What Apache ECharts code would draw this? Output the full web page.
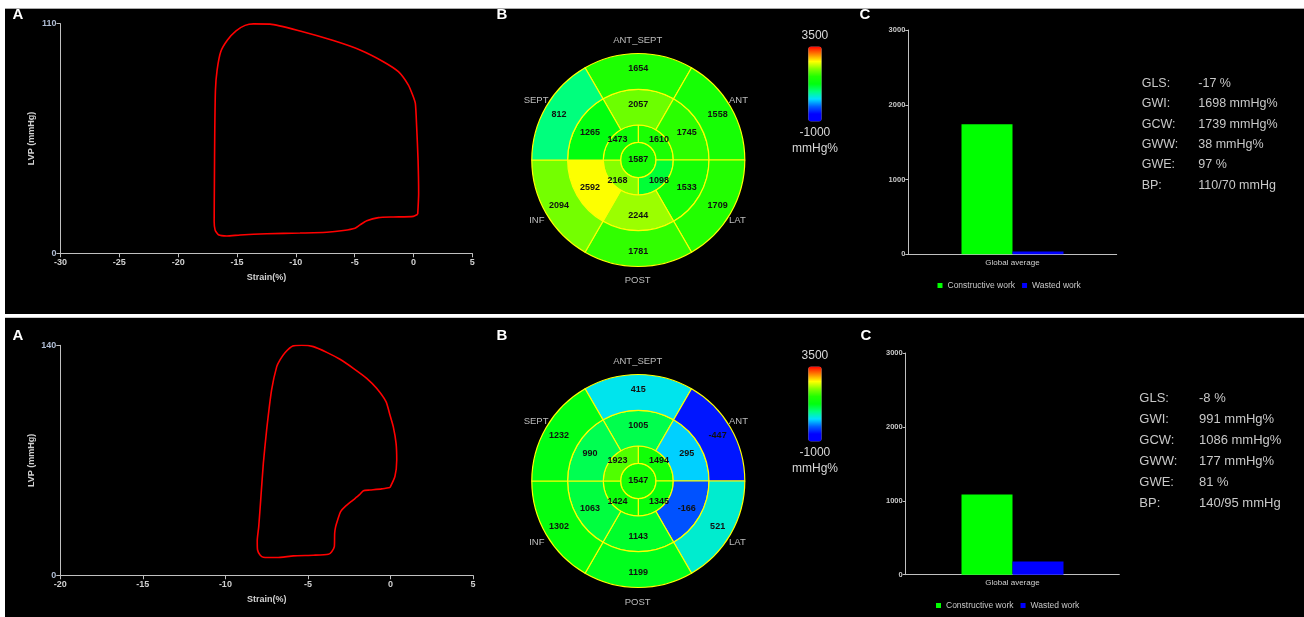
<!DOCTYPE html>
<html><head><meta charset="utf-8">
<script src="https://cdn.jsdelivr.net/npm/echarts@6/dist/echarts.min.js"></script>
<style>
html,body{margin:0;padding:0;background:#fff;width:1304px;height:617px;overflow:hidden}
.panel{position:absolute;background:#000}
#chart{position:absolute;left:0;top:0;width:1304px;height:617px}
</style></head><body>
<div class="panel" style="left:5px;top:8px;width:1299px;height:305px;border-top:1px solid #aaa"></div>
<div class="panel" style="left:5px;top:317px;width:1299px;height:300px;border-top:1px solid #ccc"></div>
<div id="chart"></div>
<script>
// ---------- DATA ----------
// Panel A: pressure-strain loops
const topLoopStrain = [0.36,0.44,0.39,0.27,0.16,-0.07,-0.43,-1.28,-2.56,-4.54,-6.81,-9.64,-12.19,-13.6,-14.31,-15.08,-15.81,-16.38,-16.69,-16.83,-16.89,-16.92,-16.94,-16.86,-16.58,-15.87,-14.74,-12.47,-9.64,-7.37,-5.96,-4.97,-4.54,-3.97,-2.98,-1.71,-0.01,0.36];
const topLoopLVP    = [18.7,28.7,44.7,60.7,71.8,75.8,80.6,87.0,91.8,97.4,101.9,106.5,109.8,109.9,109.2,106.6,102.2,96.6,87.8,78.2,57.5,33.5,15.2,11.2,8.9,8.3,8.8,9.4,9.7,10.1,10.9,12.0,13.6,15.6,17.1,17.4,17.7,18.7];
const bottomLoopStrain = [-0.03,0.27,0.38,0.34,0.17,-0.03,-0.27,-0.84,-1.44,-2.25,-3.06,-3.86,-4.67,-5.38,-5.92,-6.39,-6.69,-6.89,-7.2,-7.5,-7.7,-7.86,-7.98,-8.07,-8.05,-7.9,-7.7,-6.89,-5.88,-4.67,-3.76,-3.56,-3.4,-3.38,-3.32,-3.2,-3.02,-2.75,-2.25,-1.89,-1.64,-1.24,-0.53,-0.03];
const bottomLoopLVP    = [53.4,60.1,70.2,80.3,90.5,97.6,105.7,113.8,119.9,126.0,131.5,135.7,139.2,140.0,139.6,135.5,131.1,127.0,112.8,88.5,68.2,45.9,29.6,21.1,15.4,12.4,11.0,10.8,11.8,12.2,12.8,14.4,17.4,25.6,29.6,33.7,38.8,41.8,45.9,48.9,51.5,51.9,52.6,53.4];

// Panel B: bull's eye (segments clockwise from top)
const basalNames  = ['basal ANT_SEPT','basal ANT','basal LAT','basal POST','basal INF','basal SEPT'];
const midNames    = ['mid ANT_SEPT','mid ANT','mid LAT','mid POST','mid INF','mid SEPT'];
const apicalNames = ['apical ANT','apical LAT','apical INF','apical SEPT'];
const apexNames   = ['apex'];
const topBasal  = [1654, 1558, 1709, 1781, 2094, 812];
const topMid    = [2057, 1745, 1533, 2244, 2592, 1265];
const topApical = [1610, 1098, 2168, 1473];
const topApex   = [1587];
const botBasal  = [415, -447, 521, 1199, 1302, 1232];
const botMid    = [1005, 295, -166, 1143, 1063, 990];
const botApical = [1494, 1345, 1424, 1923];
const botApex   = [1547];
const wallLabels = ['ANT_SEPT','ANT','LAT','POST','INF','SEPT'];
const scaleMin = -1000, scaleMax = 3500;

// Panel C: global work
const workCategories = ['Global average'];
const topConstructive = [1739], topWasted = [38];
const botConstructive = [1086], botWasted = [177];
const statLabels = ['GLS:','GWI:','GCW:','GWW:','GWE:','BP:'];
const topStats = ['-17 %','1698 mmHg%','1739 mmHg%','38 mmHg%','97 %','110/70 mmHg'];
const botStats = ['-8 %','991 mmHg%','1086 mmHg%','177 mmHg%','81 %','140/95 mmHg'];

// ---------- CHART ----------
const FONT = 'Liberation Sans, Arial, sans-serif';
const chart = echarts.init(document.getElementById('chart'), null, {renderer:'canvas', width:1304, height:617});

function pairs(xs, ys){ return xs.map((x,i)=>[x, ys[i]]); }
function ringSource(names, vals){ return [['seg','size','work']].concat(names.map((n,i)=>[n,1,vals[i]])); }

const datasets = [
  {source: ringSource(apexNames, topApex)},
  {source: ringSource(apicalNames, topApical)},
  {source: ringSource(midNames, topMid)},
  {source: ringSource(basalNames, topBasal)},
  {source: ringSource(apexNames, botApex)},
  {source: ringSource(apicalNames, botApical)},
  {source: ringSource(midNames, botMid)},
  {source: ringSource(basalNames, botBasal)}
];

const radii = [[0,17.7],[17.7,35],[35,70.7],[70.7,106.5]];
const startAngles = [90, 90, 120, 120];
function pieSeries(dsIndex, ring, center){
  return {
    type:'pie', datasetIndex: dsIndex, center: center, radius: radii[ring],
    startAngle: startAngles[ring], clockwise: true, silent: true, animation:false,
    avoidLabelOverlap:false, emphasis:{disabled:true},
    encode:{itemName:'seg', value:'size'},
    itemStyle:{borderColor:'#ffff00', borderWidth:1.2},
    label:{show:true, position: ring===0 ? 'center' : 'inside', formatter:'{@work}',
      color:'#111', fontSize:9, fontWeight:'bold', fontFamily:FONT},
    labelLine:{show:false}
  };
}

const axisText = {color:'#d0d0d0', fontSize:9, fontWeight:'bold', fontFamily:FONT};
function loopAxes(gi, xmin, ymax){
  return {
    x:{type:'value', gridIndex:gi, min:xmin, max:5, interval:5,
      axisLine:{onZero:false, lineStyle:{color:'#c0c0c0'}}, axisTick:{length:4, lineStyle:{color:'#c0c0c0'}},
      splitLine:{show:false}, axisLabel:Object.assign({margin:5}, axisText),
      name:'Strain(%)', nameLocation:'middle', nameGap:20, nameTextStyle:axisText},
    y:{type:'value', gridIndex:gi, min:0, max:ymax, interval:ymax,
      axisLine:{show:true, onZero:false, lineStyle:{color:'#c0c0c0'}}, axisTick:{show:true, length:4, lineStyle:{color:'#c0c0c0'}},
      splitLine:{show:false}, axisLabel:Object.assign({margin:4}, axisText, {color:'#aebbd2'}),
      name:'LVP (mmHg)', nameLocation:'middle', nameGap:24, nameTextStyle:axisText}
  };
}
function barAxes(gi){
  return {
    x:{type:'category', gridIndex:gi, data:workCategories,
      axisLine:{onZero:false, lineStyle:{color:'#c0c0c0'}}, axisTick:{length:3, lineStyle:{color:'#c0c0c0'}},
      axisLabel:{color:'#d0d0d0', fontSize:8, fontFamily:FONT, margin:4}},
    y:{type:'value', gridIndex:gi, min:0, max:3000, interval:1000,
      axisLine:{show:true, onZero:false, lineStyle:{color:'#c0c0c0'}}, axisTick:{show:true, length:3, lineStyle:{color:'#c0c0c0'}},
      splitLine:{show:false}, axisLabel:{color:'#c8c8c8', fontSize:7.5, fontWeight:'bold', fontFamily:FONT, margin:3,
        formatter: v => String(v)}}
  };
}
const a0 = loopAxes(0, -30, 110), a1 = loopAxes(1, -20, 140), b0 = barAxes(2), b1 = barAxes(3);

function barSeries(name, gi, data, color){
  return {type:'bar', name:name, xAxisIndex:gi, yAxisIndex:gi, data:data, barWidth:51, barGap:'0%',
    itemStyle:{color:color}, silent:true, animation:false};
}

const colors = ['#0000ff','#0000ff','#0060ff','#00e0ff','#00ff80','#00ff10','#20ff00','#80ff00','#ffff00','#ff8000','#ff0000'];
function vmap(seriesIdx, top){
  return {type:'continuous', min:scaleMin, max:scaleMax, dimension:2, seriesIndex:seriesIdx,
    calculable:false, hoverLink:false, orient:'vertical', left:799.6, top:top, padding:0,
    itemWidth:13.4, itemHeight:75, text:[String(scaleMax), String(scaleMin)], textGap:5,
    textStyle:{color:'#d8d8d8', fontSize:12, fontFamily:FONT},
    inRange:{color:colors}};
}

const graphics = [];
function txt(x, y, t, opts){
  graphics.push({type:'text', x:x, y:y, silent:true, style:Object.assign({text:t, fill:'#c0c0c0',
    font:'9px '+FONT, align:'center', verticalAlign:'middle', textAlign:'center', textVerticalAlign:'middle'}, opts||{})});
}
// panel letters
[[18,15,'A'],[502,15,'B'],[865,15,'C'],[18,335.5,'A'],[502,336,'B'],[866,336,'C']].forEach(p=>
  txt(p[0], p[1], p[2], {fill:'#ffffff', font:'bold 15px '+FONT}));
// wall labels around bull's eyes
function walls(pos){
  pos.forEach((p,i)=> txt(p[0], p[1], wallLabels[i], {align:p[2], textAlign:p[2], font:'9.5px '+FONT, fill:'#bdbdbd'}));
}
walls([[637.7,40,'center'],[729,100.5,'left'],[729,220.7,'left'],[637.7,280,'center'],[544.5,220.7,'right'],[548.5,100.5,'right']]);
walls([[637.7,361,'center'],[729,421.7,'left'],[729,542,'left'],[637.7,602.3,'center'],[544.5,542,'right'],[548.5,421.7,'right']]);
// units under colour bars
txt(815, 148.5, 'mmHg%', {font:'12px '+FONT, fill:'#d8d8d8'});
txt(815, 468.5, 'mmHg%', {font:'12px '+FONT, fill:'#d8d8d8'});
// stats
statLabels.forEach((l,i)=>{
  txt(1141.7, 83.3 + i*20.4, l, {align:'left', textAlign:'left', font:'12.5px '+FONT, fill:'#c8c8c8'});
  txt(1198.3, 83.3 + i*20.4, topStats[i], {align:'left', textAlign:'left', font:'12.5px '+FONT, fill:'#c8c8c8'});
  txt(1139.3, 398.3 + i*21.1, l, {align:'left', textAlign:'left', font:'13px '+FONT, fill:'#c8c8c8'});
  txt(1199, 398.3 + i*21.1, botStats[i], {align:'left', textAlign:'left', font:'13px '+FONT, fill:'#c8c8c8'});
});

const legendBase = {data:['Constructive work','Wasted work'], icon:'rect', itemWidth:5, itemHeight:5, itemGap:7,
  padding:0, selectedMode:false, textStyle:{color:'#c8c8c8', fontSize:8.5, fontFamily:FONT}};

const option = {
  backgroundColor:'transparent',
  animation:false,
  dataset: datasets,
  grid:[
    {left:60.5, top:23.7, width:411.8, height:229.6},
    {left:60.3, top:345.3, width:412.7, height:230},
    {left:908.3, top:30, width:208.4, height:224.3},
    {left:905.7, top:353, width:213.6, height:221.7}
  ],
  xAxis:[a0.x, a1.x, b0.x, b1.x],
  yAxis:[a0.y, a1.y, b0.y, b1.y],
  legend:[
    Object.assign({left:937.5, top:281}, legendBase),
    Object.assign({left:936, top:601}, legendBase)
  ],
  visualMap:[vmap([2,3,4,5], 29.5), vmap([6,7,8,9], 349.5)],
  series:[
    {type:'line', xAxisIndex:0, yAxisIndex:0, data:pairs(topLoopStrain, topLoopLVP), showSymbol:false, smooth:0.2,
      lineStyle:{color:'#ff0000', width:1.6}, silent:true},
    {type:'line', xAxisIndex:1, yAxisIndex:1, data:pairs(bottomLoopStrain, bottomLoopLVP), showSymbol:false, smooth:0.2,
      lineStyle:{color:'#ff0000', width:1.6}, silent:true},
    pieSeries(0,0,[638.3,160]), pieSeries(1,1,[638.3,160]), pieSeries(2,2,[638.3,160]), pieSeries(3,3,[638.3,160]),
    pieSeries(4,0,[638.3,481]), pieSeries(5,1,[638.3,481]), pieSeries(6,2,[638.3,481]), pieSeries(7,3,[638.3,481]),
    barSeries('Constructive work', 2, topConstructive, '#00ff00'),
    barSeries('Wasted work', 2, topWasted, '#0000ff'),
    barSeries('Constructive work', 3, botConstructive, '#00ff00'),
    barSeries('Wasted work', 3, botWasted, '#0000ff')
  ],
  graphic: graphics
};
chart.setOption(option);
</script></body></html>
